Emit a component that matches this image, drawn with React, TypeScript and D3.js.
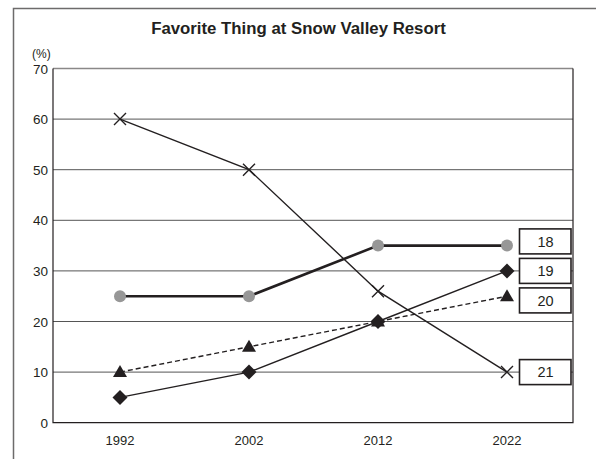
import React, { useEffect, useRef } from 'react';
import * as d3 from 'd3';

const years = [1992, 2002, 2012, 2022];
const yTicks = [0, 10, 20, 30, 40, 50, 60, 70];

const seriesCross = [60, 50, 26, 10];
const seriesCircle = [25, 25, 35, 35];
const seriesDiamond = [5, 10, 20, 30];
const seriesTriangle = [10, 15, 20, 25];

const labels = ['18', '19', '20', '21'];

const W = 596;
const H = 459;
const INK = '#231f20';

const App: React.FC = () => {
  const svgRef = useRef<SVGSVGElement | null>(null);

  useEffect(() => {
    if (!svgRef.current) return;
    const svg = d3.select(svgRef.current);
    svg.selectAll('*').remove();

    const left = 53;
    const right = 573;
    const top = 68.5;
    const bottom = 422.7;

    const x = d3.scaleLinear().domain([1992, 2022]).range([120, 507]);
    const y = d3.scaleLinear().domain([0, 70]).range([bottom, top]);

    const font = 'Liberation Sans, Arial, sans-serif';

    // outer frame (open at right/bottom)
    svg.append('path')
      .attr('d', `M13.5,${H} V8.5 H${W}`)
      .attr('fill', 'none')
      .attr('stroke', '#6d6b6b')
      .attr('stroke-width', 1.5);

    svg.append('text')
      .attr('x', 298.5)
      .attr('y', 34)
      .attr('text-anchor', 'middle')
      .attr('font-family', font)
      .attr('font-weight', 'bold')
      .attr('font-size', 16.8)
      .attr('fill', INK)
      .text('Favorite Thing at Snow Valley Resort');

    svg.append('text')
      .attr('x', 32)
      .attr('y', 58)
      .attr('font-family', font)
      .attr('font-size', 12)
      .attr('fill', INK)
      .text('(%)');

    // gridlines
    svg.append('g')
      .selectAll('line')
      .data(yTicks.filter((t) => t > 0 && t < 70))
      .enter()
      .append('line')
      .attr('x1', left)
      .attr('x2', right)
      .attr('y1', (d) => y(d))
      .attr('y2', (d) => y(d))
      .attr('stroke', '#555')
      .attr('stroke-width', 1);

    // plot border
    svg.append('line').attr('x1', left).attr('x2', right).attr('y1', top).attr('y2', top)
      .attr('stroke', '#8a8888').attr('stroke-width', 1.5);
    svg.append('path')
      .attr('d', `M${left},${top} V${bottom} H${right} V${top}`)
      .attr('fill', 'none')
      .attr('stroke', INK)
      .attr('stroke-width', 1.2);

    // y tick labels
    svg.append('g')
      .selectAll('text')
      .data(yTicks)
      .enter()
      .append('text')
      .attr('x', 48)
      .attr('y', (d) => y(d) + 5)
      .attr('text-anchor', 'end')
      .attr('font-family', font)
      .attr('font-size', 13.5)
      .attr('fill', INK)
      .text((d) => d);

    // x tick labels
    svg.append('g')
      .selectAll('text')
      .data(years)
      .enter()
      .append('text')
      .attr('x', (d) => x(d))
      .attr('y', 445)
      .attr('text-anchor', 'middle')
      .attr('font-family', font)
      .attr('font-size', 13)
      .attr('fill', INK)
      .text((d) => d);

    const line = d3.line<number>()
      .x((_, i) => x(years[i]))
      .y((d) => y(d));

    const g = svg.append('g');

    // lines
    g.append('path').attr('d', line(seriesTriangle) || '')
      .attr('fill', 'none').attr('stroke', INK).attr('stroke-width', 1.4)
      .attr('stroke-dasharray', '5,3');
    g.append('path').attr('d', line(seriesDiamond) || '')
      .attr('fill', 'none').attr('stroke', INK).attr('stroke-width', 1.4);
    g.append('path').attr('d', line(seriesCross) || '')
      .attr('fill', 'none').attr('stroke', INK).attr('stroke-width', 1.4);
    g.append('path').attr('d', line(seriesCircle) || '')
      .attr('fill', 'none').attr('stroke', INK).attr('stroke-width', 2.6);

    // markers
    g.selectAll('.tri')
      .data(seriesTriangle)
      .enter()
      .append('path')
      .attr('transform', (d, i) => `translate(${x(years[i])},${y(d)})`)
      .attr('d', 'M0,-7 L7,5 L-7,5 Z')
      .attr('fill', INK);

    g.selectAll('.dia')
      .data(seriesDiamond)
      .enter()
      .append('path')
      .attr('transform', (d, i) => `translate(${x(years[i])},${y(d)})`)
      .attr('d', 'M0,-7.5 L7.5,0 L0,7.5 L-7.5,0 Z')
      .attr('fill', INK);

    g.selectAll('.crs')
      .data(seriesCross)
      .enter()
      .append('path')
      .attr('transform', (d, i) => `translate(${x(years[i])},${y(d)})`)
      .attr('d', 'M-6,-6 L6,6 M-6,6 L6,-6')
      .attr('stroke', INK)
      .attr('stroke-width', 1.4)
      .attr('fill', 'none');

    g.selectAll('.cir')
      .data(seriesCircle)
      .enter()
      .append('circle')
      .attr('cx', (_, i) => x(years[i]))
      .attr('cy', (d) => y(d))
      .attr('r', 6)
      .attr('fill', '#979797');

    // label boxes at the right, placed by last values then spread apart
    const lastVals = [seriesCircle, seriesDiamond, seriesTriangle, seriesCross].map(
      (s) => y(s[s.length - 1])
    );
    const gap = 29.5;
    const centers = lastVals.slice();
    let i = 0;
    while (i < centers.length) {
      let j = i;
      while (j + 1 < centers.length && lastVals[j + 1] - lastVals[j] < gap) j++;
      const mean = d3.mean(lastVals.slice(i, j + 1)) as number;
      const n = j - i + 1;
      for (let k = i; k <= j; k++) centers[k] = mean + (k - i - (n - 1) / 2) * gap;
      i = j + 1;
    }

    const boxes = svg.append('g')
      .selectAll('g')
      .data(labels)
      .enter()
      .append('g')
      .attr('transform', (_, k) => `translate(519.5,${centers[k] - 12.5})`);
    boxes.append('rect')
      .attr('width', 51.5)
      .attr('height', 25)
      .attr('fill', '#fff')
      .attr('stroke', INK)
      .attr('stroke-width', 1.6);
    boxes.append('text')
      .attr('x', 26)
      .attr('y', 17.8)
      .attr('text-anchor', 'middle')
      .attr('font-family', font)
      .attr('font-size', 14.5)
      .attr('fill', INK)
      .text((d) => d);
  }, []);

  return (
    <svg
      ref={svgRef}
      width={W}
      height={H}
      style={{ position: 'absolute', left: 0, top: 0, background: '#fff' }}
    />
  );
};

export default App;
